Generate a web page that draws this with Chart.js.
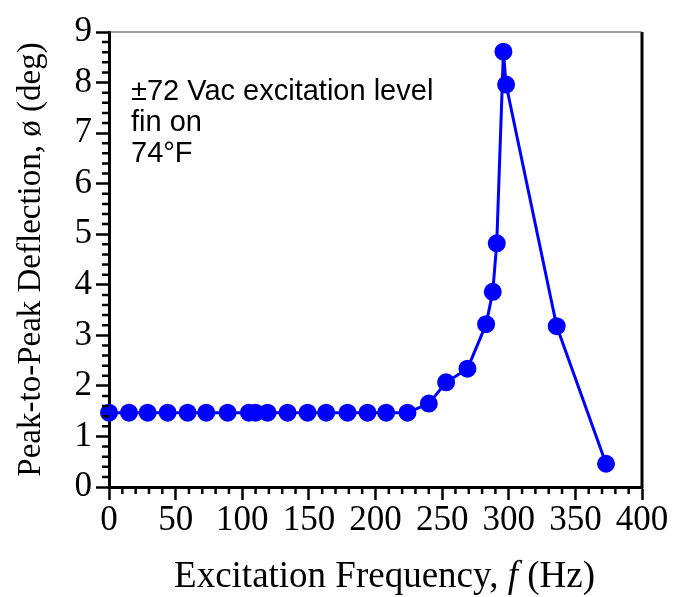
<!DOCTYPE html>
<html>
<head>
<meta charset="utf-8">
<script src="https://cdn.jsdelivr.net/npm/chart.js@4"></script>
<style>
    html, body { margin: 0; padding: 0; background: #fff; }
    #wrap { width: 673px; height: 597px; }
</style>
</head>
<body>
<div id="wrap"><canvas id="deflection-chart" width="673" height="597"></canvas></div>
<script>
// frequency (Hz) and peak-to-peak deflection (deg)
const freqHz = [0, 15, 29, 44, 59, 73, 89, 105, 110, 119, 134, 149, 163, 179, 194, 208, 224,
    240, 253, 269, 283, 288, 291, 296, 298, 336, 373];
const deflectionDeg = [1.47, 1.47, 1.47, 1.47, 1.47, 1.47, 1.47, 1.47, 1.47, 1.47, 1.47, 1.47, 1.47, 1.47, 1.47, 1.47, 1.47,
    1.65, 2.07, 2.34, 3.22, 3.86, 4.82, 8.61, 7.96, 3.18, 0.46];
const xTickLabels = ['0', '50', '100', '150', '200', '250', '300', '350', '400'];
const yTickLabels = ['0', '1', '2', '3', '4', '5', '6', '7', '8', '9'];
const noteLines = ['\u00b172 Vac excitation level', 'fin on', '74\u00b0F'];

const serif = '"Liberation Serif", "Times New Roman", serif';
const sans = '"Liberation Sans", Arial, sans-serif';

// minor ticks, the right/top frame, the note and the x title
const extrasPlugin = {
    id: 'extras',
    afterDraw(chart) {
        const ctx = chart.ctx;
        const area = chart.chartArea;
        const x = chart.scales.x;
        const y = chart.scales.y;
        ctx.save();
        ctx.strokeStyle = '#000';
        ctx.lineWidth = 2.5;
        ctx.beginPath();
        for (let v = 0; v <= 400; v += 10) {
            if (v % 50 === 0) continue;
            const px = x.getPixelForValue(v);
            ctx.moveTo(px, area.bottom);
            ctx.lineTo(px, area.bottom + 7);
        }
        for (let v = 0; v <= 9.001; v += 0.2) {
            if (Math.abs(v - Math.round(v)) < 0.01) continue;
            const py = y.getPixelForValue(v);
            ctx.moveTo(area.left, py);
            ctx.lineTo(area.left - 7, py);
        }
        ctx.stroke();

        // right axis line
        ctx.lineWidth = 3;
        ctx.beginPath();
        ctx.moveTo(area.right, area.top);
        ctx.lineTo(area.right, area.bottom + 1.5);
        ctx.stroke();
        // thin top line
        ctx.strokeStyle = '#444';
        ctx.lineWidth = 1.2;
        ctx.beginPath();
        ctx.moveTo(area.left, area.top);
        ctx.lineTo(area.right, area.top);
        ctx.stroke();

        // note text
        ctx.fillStyle = '#000';
        ctx.font = '29px ' + sans;
        ctx.textBaseline = 'middle';
        ctx.textAlign = 'left';
        noteLines.forEach((line, i) => {
            ctx.fillText(line, area.left + 22, area.top + 60 + i * 31);
        });

        // x axis title with italic f
        const parts = [
            { t: 'Excitation Frequency, ', f: '37px ' + serif },
            { t: 'f', f: 'italic 37px ' + serif },
            { t: ' (Hz)', f: '37px ' + serif }
        ];
        let total = 0;
        parts.forEach(p => { ctx.font = p.f; total += ctx.measureText(p.t).width; });
        let cx = (area.left + area.right) / 2 - total / 2 + 9;
        parts.forEach(p => {
            ctx.font = p.f;
            ctx.fillText(p.t, cx, 577);
            cx += ctx.measureText(p.t).width;
        });
        ctx.restore();
    }
};

const ctx = document.getElementById('deflection-chart').getContext('2d');
const deflectionChart = new Chart(ctx, {
    type: 'scatter',
    data: {
        datasets: [{
            data: freqHz.map((f, i) => ({ x: f, y: deflectionDeg[i] })),
            showLine: true,
            borderColor: '#0000ff',
            backgroundColor: '#0000ff',
            borderWidth: 3,
            pointRadius: 7.5,
            pointHoverRadius: 7.5,
            clip: false
        }]
    },
    options: {
        responsive: false,
        animation: false,
        events: [],
        layout: { padding: { top: 32, right: 31, left: 0, bottom: 0 } },
        plugins: {
            legend: { display: false },
            tooltip: { enabled: false }
        },
        scales: {
            x: {
                type: 'linear',
                min: 0,
                max: 400,
                afterFit: scale => { scale.height = 110; },
                border: { display: true, color: '#000', width: 3 },
                grid: { drawOnChartArea: false, drawTicks: true, tickLength: 13, tickWidth: 2.5, tickColor: '#000' },
                ticks: {
                    stepSize: 50,
                    padding: 0,
                    color: '#000',
                    font: { family: serif, size: 35 },
                    maxRotation: 0,
                    callback: (v, i) => xTickLabels[i]
                }
            },
            y: {
                type: 'linear',
                min: 0,
                max: 9,
                afterFit: scale => { scale.width = 109; },
                border: { display: true, color: '#000', width: 3 },
                grid: { drawOnChartArea: false, drawTicks: true, tickLength: 13, tickWidth: 2.5, tickColor: '#000' },
                title: {
                    display: true,
                    text: 'Peak-to-Peak Deflection, \u00f8 (deg)',
                    color: '#000',
                    font: { family: serif, size: 33 },
                    padding: { top: 12, bottom: 0 }
                },
                ticks: {
                    stepSize: 1,
                    padding: 4,
                    color: '#000',
                    font: { family: serif, size: 35 },
                    callback: (v, i) => yTickLabels[i]
                }
            }
        }
    },
    plugins: [extrasPlugin]
});
</script>
</body>
</html>
